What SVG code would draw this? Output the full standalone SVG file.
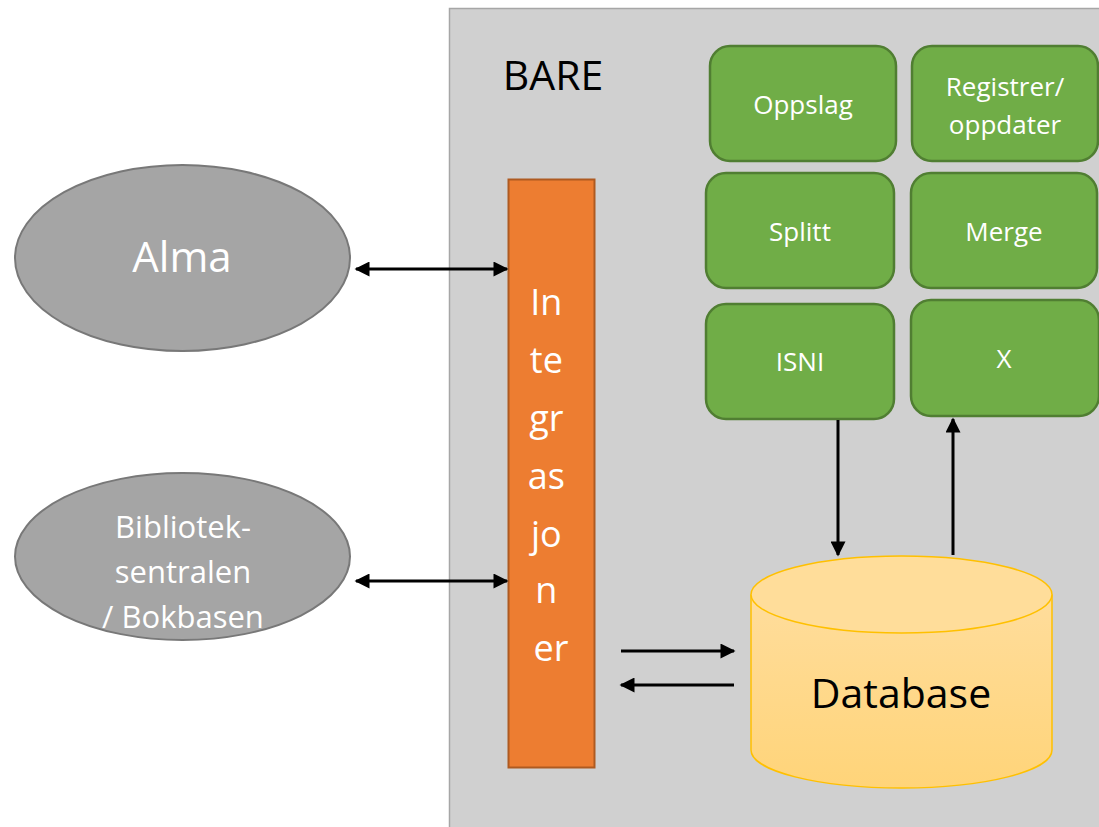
<svg xmlns="http://www.w3.org/2000/svg" width="1099" height="827" viewBox="0 0 1099 827">
<defs>
<style>
.t{font-family:"Open Sans","Noto Sans","Liberation Sans",sans-serif;text-anchor:middle}
.w{fill:#ffffff}
.g rect{fill:#70ad47;stroke:#507e32;stroke-width:2.5}
.ell{fill:#a5a5a5;stroke:#787878;stroke-width:2}
.c{stroke:#000;stroke-width:3;fill:none}
</style>
<linearGradient id="db" x1="0" y1="0" x2="0" y2="1">
<stop offset="0" stop-color="#ffdd9c"/>
<stop offset="1" stop-color="#ffd479"/>
</linearGradient>
<marker id="ah" viewBox="0 0 10 10" refX="9" refY="5" markerWidth="5.5" markerHeight="5" orient="auto-start-reverse" markerUnits="strokeWidth">
<path d="M0,0 L10,5 L0,10 Z" fill="#000"/>
</marker>
</defs>
<rect width="1099" height="827" fill="#ffffff"/>
<g id="bare">
<rect x="449.5" y="8.5" width="700" height="900" fill="#d0d0d0" stroke="#a6a6a6" stroke-width="1.5"/>
<text x="553" y="90" class="t" font-size="41" fill="#000">BARE</text>
</g>
<g id="oppslag" class="g">
<rect x="710" y="46" width="186" height="115" rx="20"/>
<text x="803" y="114" class="t w" font-size="26">Oppslag</text>
</g>
<g id="registrer" class="g">
<rect x="912" y="46" width="186" height="115" rx="20"/>
<text x="1005" y="96" class="t w" font-size="26">Registrer/</text>
<text x="1005" y="134" class="t w" font-size="26">oppdater</text>
</g>
<g id="splitt" class="g">
<rect x="706" y="173" width="188" height="115" rx="20"/>
<text x="800" y="241" class="t w" font-size="26">Splitt</text>
</g>
<g id="merge" class="g">
<rect x="911" y="173" width="186" height="115" rx="20"/>
<text x="1004" y="241" class="t w" font-size="26">Merge</text>
</g>
<g id="isni" class="g">
<rect x="706" y="304" width="188" height="115" rx="20"/>
<text x="800" y="371" class="t w" font-size="26">ISNI</text>
</g>
<g id="x" class="g">
<rect x="911" y="300" width="188" height="116" rx="20"/>
<text x="1004" y="368" class="t w" font-size="26">X</text>
</g>
<g id="integrasjoner">
<rect x="508.5" y="179.5" width="86" height="588" fill="#ed7d31" stroke="#ae5a21" stroke-width="2"/>
<text class="t w" font-size="36">
<tspan x="551" y="315">In</tspan>
<tspan x="551" y="373">te</tspan>
<tspan x="551" y="431">gr</tspan>
<tspan x="551" y="489">as</tspan>
<tspan x="551" y="547">jo</tspan>
<tspan x="551" y="603">n</tspan>
<tspan x="551" y="661">er</tspan>
</text>
</g>
<g id="alma">
<ellipse cx="182.5" cy="258" rx="167.5" ry="93" class="ell"/>
<text x="182" y="272" class="t w" font-size="42">Alma</text>
</g>
<g id="bibliotek">
<ellipse cx="182.5" cy="556.5" rx="167.5" ry="83.5" class="ell"/>
<text x="183" y="538" class="t w" font-size="31">Bibliotek-</text>
<text x="183" y="583" class="t w" font-size="31">sentralen</text>
<text x="183" y="628" class="t w" font-size="31">/ Bokbasen</text>
</g>
<g id="database">
<path d="M751,594.5 L751,750 A150.5,38 0 0 0 1052,750 L1052,594.5" fill="url(#db)" stroke="#ffc000" stroke-width="1.5"/>
<ellipse cx="901.5" cy="594.5" rx="150.5" ry="38.5" fill="#ffdd9a" stroke="#ffc000" stroke-width="1.5"/>
<text x="901" y="708" class="t" font-size="41" fill="#000">Database</text>
</g>
<g id="connectors">
<line x1="356" y1="269" x2="507" y2="269" class="c" marker-start="url(#ah)" marker-end="url(#ah)"/>
<line x1="356" y1="581" x2="507" y2="581" class="c" marker-start="url(#ah)" marker-end="url(#ah)"/>
<line x1="838" y1="420" x2="838" y2="555" class="c" marker-end="url(#ah)"/>
<line x1="953" y1="555" x2="953" y2="419" class="c" marker-end="url(#ah)"/>
<line x1="621" y1="651" x2="734" y2="651" class="c" marker-end="url(#ah)"/>
<line x1="734" y1="685" x2="621" y2="685" class="c" marker-end="url(#ah)"/>
</g>
</svg>
